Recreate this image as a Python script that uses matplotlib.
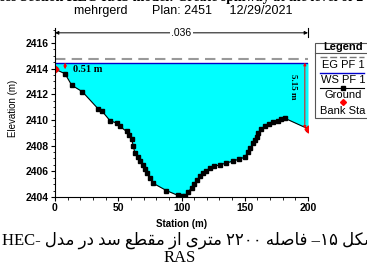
import matplotlib.pyplot as plt
from matplotlib.patches import Rectangle
from matplotlib.lines import Line2D
from matplotlib.ticker import MultipleLocator

# داده‌ها - مقطع عرضی
station = [0, 7.9, 13.2, 21.6, 34.2, 36.8, 43.4, 48.7, 51.3, 56.6, 58.5, 60.5,
           61.8, 63.2, 65.8, 67.5, 69.2, 71.0, 72.4, 75.0, 77.6, 88.1, 97.3,
           100.0, 102.7, 105.3, 108.0, 110.0, 111.9, 114.5, 117.1, 119.5, 122.4,
           126.0, 130.3, 135.5, 140.8, 145.5, 150.1, 152.7, 154.5, 156.6, 158.0,
           159.3, 160.6, 163.0, 165.9, 169.0, 172.4, 176.0, 179.0, 181.7, 200.0]
ground = [2413.95, 2413.6, 2412.7, 2412.2, 2410.85, 2410.73, 2409.95, 2409.75,
          2409.5, 2409.1, 2408.85, 2408.55, 2408.0, 2407.4, 2407.14, 2406.8,
          2406.5, 2406.15, 2405.85, 2405.46, 2405.07, 2404.5, 2404.12, 2404.05,
          2404.08, 2404.4, 2404.7, 2405.0, 2405.3, 2405.6, 2405.85, 2406.05,
          2406.24, 2406.4, 2406.5, 2406.65, 2406.8, 2406.95, 2407.1, 2407.53,
          2407.85, 2408.19, 2408.45, 2408.7, 2409.0, 2409.3, 2409.5, 2409.65,
          2409.8, 2409.95, 2410.06, 2410.13, 2409.31]
bank_sta = [0, 200]
bank_elev = [2413.95, 2409.31]
ws = 2414.46   # WS PF 1
eg = 2414.75   # EG PF 1
dim_elev = 2416.78
yticks = [2404, 2406, 2408, 2410, 2412, 2414, 2416]
xticks = [0, 50, 100, 150, 200]

W, H = 367, 262
fig = plt.figure(figsize=(W / 100, H / 100), dpi=100)
ax = fig.add_axes([55 / W, 1 - 197 / H, 253 / W, 167 / H])

ax.fill_between(station, ground, ws, where=[g < ws for g in ground],
                color='#00ffff', lw=0, interpolate=True)
ax.plot([station[0], station[-1]], [eg, eg], color='#999999', lw=1.5, dashes=(5, 3))
ax.plot([station[0], station[-1]], [ws, ws], color='#0000cc', lw=1)
ax.plot(station, ground, color='black', lw=0.8, marker='s', ms=3.2)
ax.plot(bank_sta, bank_elev, ls='none', marker='D', color='red', ms=3.5)

# خط اندازه بالای شکل
ax.annotate('', xy=(station[0], dim_elev), xytext=(station[-1], dim_elev),
            arrowprops=dict(arrowstyle='<|-|>', lw=0.7, color='black',
                            mutation_scale=5, shrinkA=0, shrinkB=0),
            annotation_clip=False)
for s in [station[0], station[-1]]:
    ax.plot([s, s], [dim_elev - 0.35, dim_elev + 0.35], color='black', lw=0.8, clip_on=False)
ax.text(100, dim_elev, '.036', ha='center', va='center', fontsize=7.5,
        family='Liberation Sans', bbox=dict(fc='white', ec='none', pad=1))

# عمق آب
ax.annotate('', xy=(8, ws), xytext=(8, bank_elev[0]),
            arrowprops=dict(arrowstyle='<|-|>', color='red', lw=0.7,
                            mutation_scale=4, shrinkA=0, shrinkB=0))
ax.text(14, 2413.95, '0.51 m', fontsize=7.5, fontweight='bold',
        family='Liberation Serif', va='center')
ax.annotate('', xy=(197.5, ws), xytext=(197.5, bank_elev[1]),
            arrowprops=dict(arrowstyle='<|-|>', color='red', lw=0.7,
                            mutation_scale=4, shrinkA=0, shrinkB=0))
ax.text(188.5, 2412.6, '5.15 m', fontsize=6.5, fontweight='bold', rotation=-90,
        family='Liberation Serif', ha='center', va='center')

ax.set_xlim(0, 200)
ax.set_ylim(2404, 2417)
ax.set_xticks(xticks)
ax.set_yticks(yticks)
ax.xaxis.set_minor_locator(MultipleLocator(10))
ax.yaxis.set_minor_locator(MultipleLocator(0.5))
ax.tick_params(labelsize=7.5, length=3, width=0.8, pad=1.5)
ax.tick_params(which='minor', length=1.8, width=0.6)
for lab in ax.get_xticklabels() + ax.get_yticklabels():
    lab.set_fontweight('bold')
    lab.set_family('Liberation Sans')
for side in ['top', 'right']:
    ax.spines[side].set_visible(False)
ax.set_xlabel('Station (m)', fontsize=7, fontweight='bold', family='Liberation Sans', labelpad=4)

fig.text(13 / W, 1 - 108 / H, 'Elevation (m)', rotation=90, ha='center', va='center',
         fontsize=7, family=['Liberation Sans Narrow', 'Liberation Sans'])

# عنوان
fig.text(0.5, 1 + 2 / H, 'Cross Section HEC-RAS model: Create spillway at the level of 2414',
         ha='center', va='center', fontsize=10, fontweight='bold', family='Liberation Serif')
fig.text(0.5, 1 - 11 / H, 'mehrgerd       Plan: 2451     12/29/2021', ha='center',
         va='center', fontsize=9, family='Liberation Sans')

# راهنما
lx0, lx1 = 315 / W, 372 / W
fig.patches.append(Rectangle((lx0, 1 - 118 / H), lx1 - lx0, 75 / H, transform=fig.transFigure,
                             fc='white', ec='#555555', lw=0.8))
fig.lines.append(Line2D([lx0, lx1], [1 - 53 / H] * 2, transform=fig.transFigure,
                        color='#555555', lw=0.8))
cx = 343 / W
fig.text(cx, 1 - 47.5 / H, 'Legend', ha='center', va='center', fontsize=8,
         fontweight='bold', family='Liberation Sans')
sx = [320 / W, 364 / W]
fig.lines.append(Line2D(sx, [1 - 57 / H] * 2, transform=fig.transFigure,
                        color='#777777', lw=1, dashes=(5, 2)))
fig.text(cx, 1 - 65 / H, 'EG PF 1', ha='center', va='center', fontsize=8, family='Liberation Sans')
fig.lines.append(Line2D(sx, [1 - 73 / H] * 2, transform=fig.transFigure, color='#0000cc', lw=1))
fig.text(cx, 1 - 80 / H, 'WS PF 1', ha='center', va='center', fontsize=8, family='Liberation Sans')
fig.lines.append(Line2D(sx, [1 - 88 / H] * 2, transform=fig.transFigure, color='black', lw=0.8))
fig.lines.append(Line2D([cx], [1 - 88 / H], transform=fig.transFigure, color='black',
                        marker='s', ms=2.5, ls='none'))
fig.text(cx, 1 - 95 / H, 'Ground', ha='center', va='center', fontsize=8, family='Liberation Sans')
fig.lines.append(Line2D([cx], [1 - 102 / H], transform=fig.transFigure, color='red',
                        marker='D', ms=3, ls='none'))
fig.text(cx, 1 - 110.5 / H, 'Bank Sta', ha='center', va='center', fontsize=8, family='Liberation Sans')

# زیرنویس فارسی (حروف به ترتیب نمایشی)
caption = ('HEC- \uFEDD\uFEAA\uFEE3 \uFEAD\uFEA9 \uFEAA\uFEB3 \uFECA\uFEC4\uFED8\uFEE3 '
           '\uFEAF\uFE8D \uFBFC\uFEAE\uFE98\uFEE3 \u06F2\u06F2\u06F0\u06F0 '
           '\uFEEA\uFEE0\uFEBB\uFE8E\uFED3 \u2013\u06F1\u06F5 \uFEDE\uFB91\uFEB7')
fig.text(378 / W, 1 - 240 / H, caption, ha='right', va='center', fontsize=12,
         family=['Liberation Serif', 'DejaVu Sans'])
fig.text(180 / W, 1 - 258 / H, 'RAS', ha='center', va='center', fontsize=12,
         family='Liberation Serif')

fig.savefig('out.png', dpi=100)
